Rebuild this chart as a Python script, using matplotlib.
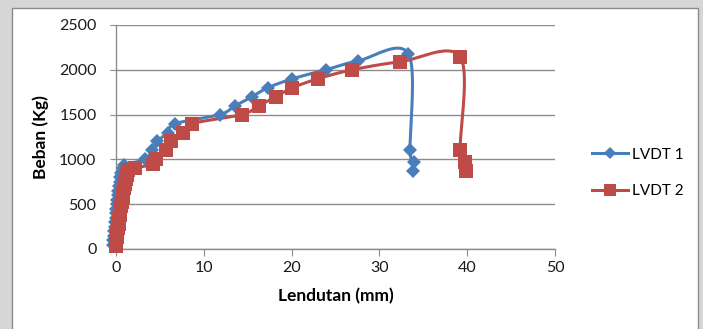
import numpy as np
import matplotlib.pyplot as plt
from matplotlib.patches import Rectangle

plt.rcParams['font.family'] = ['Lato', 'DejaVu Sans']

# LVDT 1 (blue diamonds)
lvdt1_x = [-0.35, -0.3, -0.25, -0.2, -0.15, -0.1, -0.05, 0.0, 0.05, 0.1,
           0.15, 0.2, 0.25, 0.3, 0.4, 0.5, 0.6, 0.75, 0.95,
           3.3, 4.1, 4.7, 5.9, 6.75, 11.8, 13.6, 15.5, 17.3, 20.1, 23.9,
           27.6, 33.3, 33.5, 33.9, 33.8]
lvdt1_y = [50, 100, 150, 200, 250, 300, 350, 400, 450, 500,
           550, 600, 650, 700, 750, 800, 850, 900, 940,
           1000, 1100, 1200, 1300, 1400, 1500, 1600, 1700, 1800, 1900, 2000,
           2100, 2180, 1105, 975, 865]

# LVDT 2 (red squares)
lvdt2_x = [0.0, 0.05, 0.1, 0.15, 0.2, 0.3, 0.35, 0.45, 0.5, 0.6,
           0.7, 0.8, 0.85, 0.95, 1.05, 1.15, 1.25, 1.4, 2.15,
           4.2, 4.5, 5.7, 6.3, 7.6, 8.7, 14.3, 16.3, 18.2, 20.1, 23.0,
           26.9, 32.4, 39.2, 39.2, 39.75, 39.9]
lvdt2_y = [30, 80, 130, 180, 230, 280, 330, 380, 430, 480,
           530, 580, 630, 680, 730, 780, 830, 880, 905,
           945, 1000, 1100, 1200, 1300, 1400, 1500, 1600, 1700, 1800, 1900,
           2000, 2090, 2146, 1105, 975, 865]

blue = '#4a7ebb'
red = '#be4b48'

W, H = 703, 329
fig = plt.figure(figsize=(W / 100, H / 100), dpi=100)
fig.patch.set_facecolor('#d6d6d6')
fig.patches.append(Rectangle((12 / W, -0.05), (698 - 12) / W, 1.05 - 8 / H,
                             transform=fig.transFigure, facecolor='white',
                             edgecolor='#8c8c8c', linewidth=1.0, zorder=-5))

ax = fig.add_axes([116 / W, 1 - 249 / H, (555 - 116) / W, (249 - 25) / H])
ax.set_xlim(0, 50)
ax.set_ylim(0, 2500)
ax.set_facecolor('none')


def smooth(xs, ys, n=20):
    # Excel-like smoothed line: Catmull-Rom through the points in pixel space
    p = ax.transData.transform(np.column_stack([xs, ys]))
    p = np.vstack([p[0], p, p[-1]])
    out = []
    t = np.linspace(0, 1, n)[:, None]
    for i in range(1, len(p) - 2):
        p0, p1, p2, p3 = p[i - 1], p[i], p[i + 1], p[i + 2]
        c1 = p1 + (p2 - p0) / 6.0
        c2 = p2 - (p3 - p1) / 6.0
        seg = ((1 - t) ** 3 * p1 + 3 * (1 - t) ** 2 * t * c1
               + 3 * (1 - t) * t ** 2 * c2 + t ** 3 * p2)
        out.append(seg)
    out = np.vstack(out)
    d = ax.transData.inverted().transform(out)
    return d[:, 0], d[:, 1]


series = [(lvdt1_x, lvdt1_y, blue, 'D', 7.5, 6.0, 'LVDT 1'),
          (lvdt2_x, lvdt2_y, red, 's', 10.0, 9.0, 'LVDT 2')]
for xs, ys, c, m, ms, lms, lab in series:
    sx, sy = smooth(xs, ys)
    ax.plot(sx, sy, '-', color=c, linewidth=2.2, clip_on=False, zorder=3)
    ax.plot(xs, ys, m, color=c, markersize=ms, markeredgewidth=0,
            clip_on=False, zorder=4)
    ax.plot([], [], '-', marker=m, color=c, linewidth=2.2, markersize=lms,
            markeredgewidth=0, label=lab)

ax.set_xticks([0, 10, 20, 30, 40, 50])
ax.set_yticks([0, 500, 1000, 1500, 2000, 2500])
ax.grid(axis='y', color='#8c8c8c', linewidth=1.0)
ax.set_axisbelow(True)
for s in ['top', 'right']:
    ax.spines[s].set_visible(False)
for s in ['left', 'bottom']:
    ax.spines[s].set_color('#8c8c8c')
    ax.spines[s].set_linewidth(1.0)
ax.tick_params(axis='x', direction='out', length=5, color='#8c8c8c',
               labelsize=11.5, pad=4, labelcolor='#1a1a1a')
ax.tick_params(axis='y', direction='out', length=4, color='#8c8c8c',
               labelsize=11.5, pad=10, labelcolor='#1a1a1a')

ax.set_xlabel('Lendutan (mm)', fontsize=12.5, fontweight='bold', labelpad=9)
ax.set_ylabel('Beban (Kg)', fontsize=12.5, fontweight='bold', labelpad=7)

ax.legend(loc='center left', bbox_to_anchor=(578 / W, 1 - 173 / H),
          bbox_transform=fig.transFigure, frameon=False, fontsize=11,
          handlelength=2.4, handletextpad=0.25, labelspacing=1.5)

fig.savefig('out.png', dpi=100, facecolor=fig.get_facecolor())
